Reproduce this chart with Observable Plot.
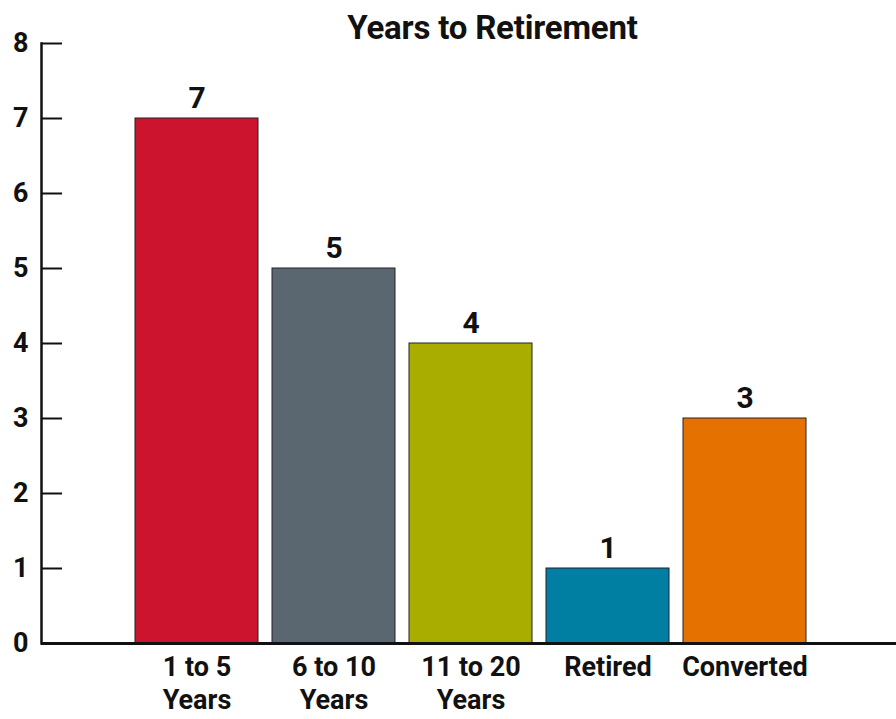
<!DOCTYPE html>
<html>
<head>
<meta charset="utf-8">
<script src="https://cdn.jsdelivr.net/npm/d3@7"></script>
<script src="https://cdn.jsdelivr.net/npm/@observablehq/plot@0.6"></script>
<style>
  html, body { margin: 0; padding: 0; background: #fff; }
  #wrap { position: relative; width: 896px; height: 719px; font-family: Roboto, "Liberation Sans", sans-serif; }
  #title { position: absolute; left: 0; top: 8px; width: 985px; text-align: center; font-weight: 700; font-size: 33px; color: #111; letter-spacing: -0.2px; }
  svg { display: block; }
</style>
</head>
<body>
<div id="wrap">
  <div id="chart"></div>
  <div id="title">Years to Retirement</div>
</div>
<script>
const categories = ["1 to 5 Years", "6 to 10 Years", "11 to 20 Years", "Retired", "Converted"];
const tickLabels = ["1 to 5\nYears", "6 to 10\nYears", "11 to 20\nYears", "Retired", "Converted"];
const values = [7, 5, 4, 1, 3];
const colors = ["#CC142E", "#5B6770", "#A8AD00", "#007FA3", "#E57200"];
const yTicks = [0, 1, 2, 3, 4, 5, 6, 7, 8];

const data = categories.map((c, i) => ({category: c, value: values[i]}));
const labelOf = new Map(categories.map((c, i) => [c, tickLabels[i]]));

const chart = Plot.plot({
  width: 896,
  height: 719,
  marginLeft: 41,
  marginRight: 0,
  marginTop: 43,
  marginBottom: 76,
  style: {fontFamily: "Roboto, 'Liberation Sans', sans-serif", fontWeight: 700, color: "#111", background: "#fff"},
  x: {domain: categories, range: [120, 822], padding: 0.1, axis: null},
  y: {domain: [0, 8], axis: null},
  color: {domain: categories, range: colors},
  marks: [
    Plot.barY(data, {x: "category", y: "value", fill: "category", stroke: "#222", strokeWidth: 1}),
    Plot.text(data, {x: "category", y: "value", text: d => String(d.value), lineAnchor: "bottom", dy: -11, fontSize: 30, fontWeight: 700, fill: "#111"}),
    Plot.axisY(yTicks, {anchor: "left", label: null, tickSize: -21, tickPadding: 34, strokeWidth: 2, stroke: "#111", fontSize: 27, fontWeight: 700, fill: "#111", tickFormat: d => String(d)}),
    Plot.frame({anchor: "left", stroke: "#111", strokeWidth: 2.5}),
    Plot.ruleY([0], {stroke: "#111", strokeWidth: 3}),
    Plot.axisX({anchor: "bottom", label: null, tickSize: 0, tickPadding: 9, fontSize: 27, fontWeight: 700, fill: "#111", lineHeight: 1.22, tickFormat: d => labelOf.get(d)})
  ]
});
document.getElementById("chart").appendChild(chart);
</script>
</body>
</html>
